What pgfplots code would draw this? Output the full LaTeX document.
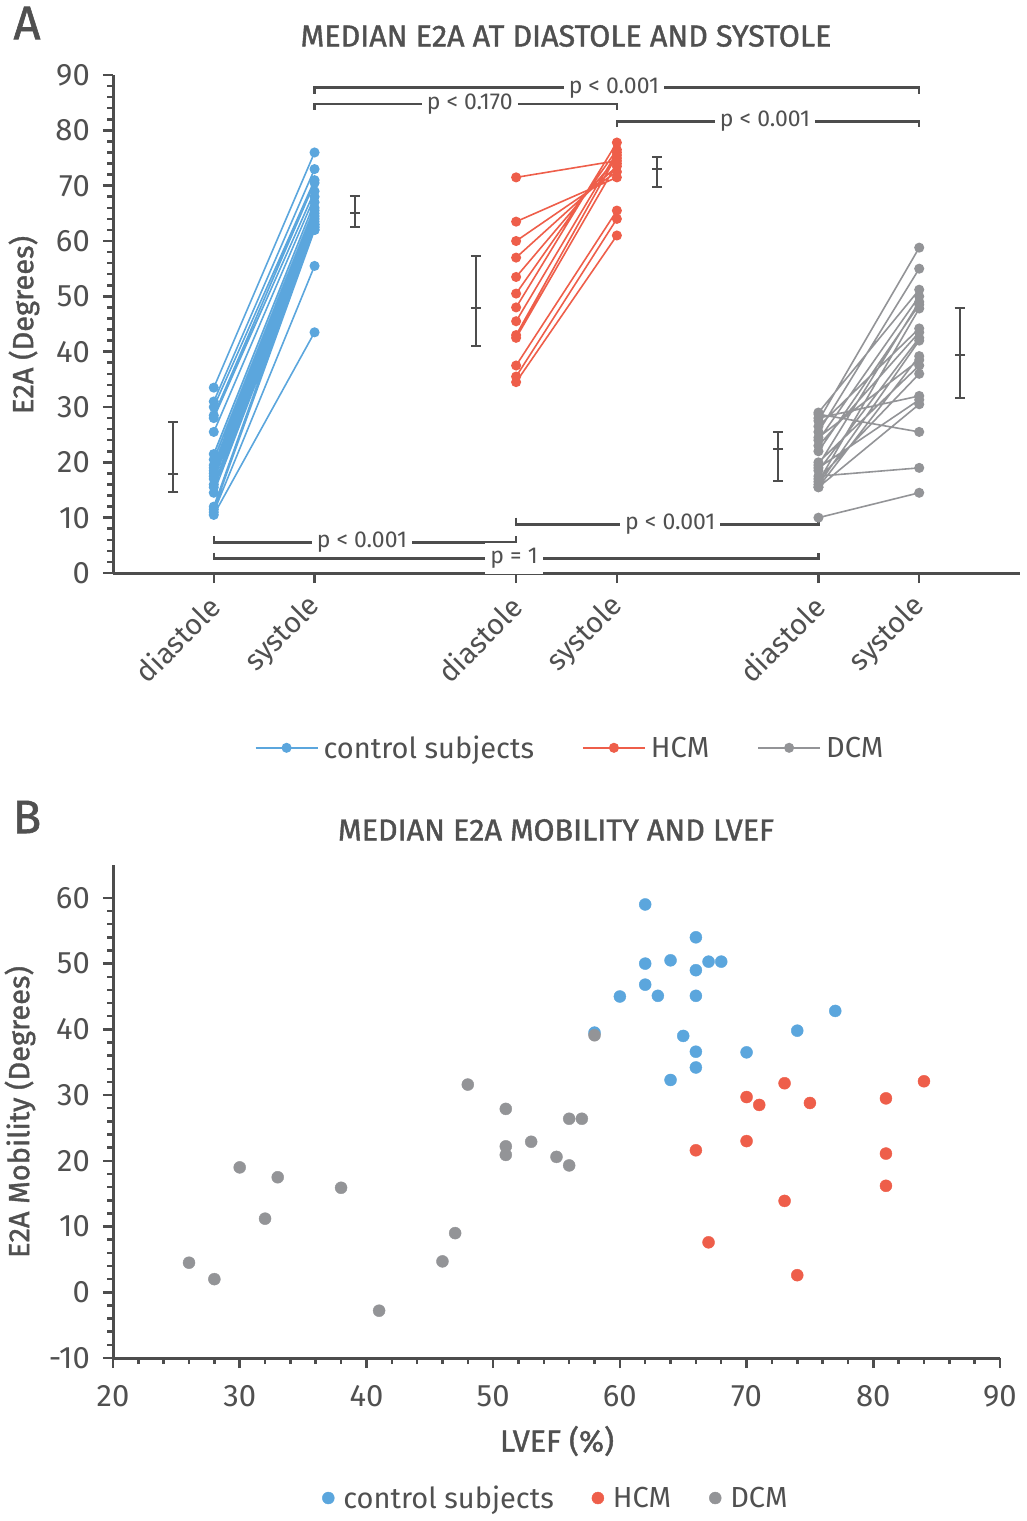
\documentclass[border=0pt]{standalone}
\usepackage{pgfplots}
\pgfplotsset{compat=1.18}
\usepackage{fontspec}
\setmainfont{Fira Sans}
\newfontfamily\medfont[FakeBold=1.3]{Fira Sans}
\definecolor{cblue}{RGB}{91,166,221}
\definecolor{cred}{RGB}{238,94,74}
\definecolor{cgray}{RGB}{147,148,151}
\definecolor{tgray}{RGB}{80,80,80}
\definecolor{agray}{RGB}{77,77,77}
\newcommand\tfont{\fontsize{31}{36}\selectfont}
\newcommand\lfont{\fontsize{29}{34}\selectfont}
\newcommand\hfont{\fontsize{30.5}{36}\selectfont}
\newcommand\pfont{\fontsize{23}{27}\selectfont}
\pgfplotsset{
  common/.style={
    scale only axis,
    axis x line*=bottom, axis y line*=left,
    axis line style={-, line width=3pt, agray},
    tick style={line width=2.5pt, agray},
    major tick length=10pt, minor tick length=6pt,
    tick align=outside,
    tick label style={font=\tfont, text=tgray},
    yticklabel style={inner sep=2pt, xshift=-11pt},
    /pgf/number format/assume math mode=true,
    clip=false,
  },
}
\tikzset{
  br/.style={line width=2.5pt, agray},
  pl/.style={fill=white, inner sep=5pt, font=\pfont, text=tgray},
}
\begin{document}
\begin{tikzpicture}[x=1pt,y=1pt]
\useasboundingbox (0,0) rectangle (1026,-1521);
% ---------------- Panel A ----------------
\node[font=\fontsize{47}{52}\selectfont\medfont, text=tgray] at (27,-23) {A};
\node[font=\hfont\medfont, text=tgray] at (566,-36) {MEDIAN E2A AT DIASTOLE AND SYSTOLE};
\node[font=\lfont\medfont, text=tgray, rotate=90] at (24,-325) {E2A (Degrees)};
\begin{axis}[common,
  at={(113pt,-573pt)}, anchor=south west, width=907pt, height=498pt,
  xmin=0, xmax=9, ymin=0, ymax=90,
  xtick={1,2,4,5,7,8},
  xticklabels={diastole,systole,diastole,systole,diastole,systole},
  xticklabel style={rotate=45, anchor=east, font=\lfont, yshift=-14pt, xshift=-9pt},
  ytick={0,10,...,90}, minor y tick num=4,
  unbounded coords=jump,
  legend style={at={(0.504,-0.351)}, anchor=center, draw=none, fill=none,
    legend columns=3, font=\lfont, text=tgray,
    /tikz/every even column/.append style={column sep=46pt}},
  legend image code/.code={\path[draw=none,fill=none] (0pt,0pt) (66pt,0pt); \draw[mark repeat=2, mark phase=2, #1] plot coordinates {(0pt,0pt) (31pt,0pt) (62pt,0pt)};},
]
\addplot[cblue, line width=1.6pt, mark=*, mark size=4.2pt, mark options={draw=none, fill=cblue}] coordinates {
(1,33.5)(2,76) (nan,nan)
(1,31)(2,73) (nan,nan)
(1,30)(2,71) (nan,nan)
(1,28.5)(2,70.5) (nan,nan)
(1,28)(2,69) (nan,nan)
(1,25.5)(2,68) (nan,nan)
(1,21.5)(2,67) (nan,nan)
(1,20.5)(2,66) (nan,nan)
(1,19.5)(2,65.5) (nan,nan)
(1,19)(2,65) (nan,nan)
(1,18.5)(2,64.5) (nan,nan)
(1,18)(2,64) (nan,nan)
(1,17.5)(2,63.5) (nan,nan)
(1,17)(2,63) (nan,nan)
(1,16)(2,62.5) (nan,nan)
(1,15.5)(2,62.5) (nan,nan)
(1,14.5)(2,62) (nan,nan)
(1,12)(2,63) (nan,nan)
(1,11)(2,55.5) (nan,nan)
(1,10.5)(2,43.5) (nan,nan)
(1,11.5)(2,62)
};
\addlegendentry{control subjects}
\addplot[cred, line width=1.6pt, mark=*, mark size=4.2pt, mark options={draw=none, fill=cred}] coordinates {
(4,71.5)(5,74.5) (nan,nan)
(4,63.5)(5,71.5) (nan,nan)
(4,60)(5,72.5) (nan,nan)
(4,57)(5,73.5) (nan,nan)
(4,53.5)(5,75) (nan,nan)
(4,50.5)(5,76.5) (nan,nan)
(4,48)(5,77.8) (nan,nan)
(4,45.5)(5,76) (nan,nan)
(4,43)(5,75.5) (nan,nan)
(4,42.5)(5,74) (nan,nan)
(4,37.5)(5,65.5) (nan,nan)
(4,35.5)(5,64) (nan,nan)
(4,34.5)(5,61)
};
\addlegendentry{HCM}
\addplot[cgray, line width=1.6pt, mark=*, mark size=4.2pt, mark options={draw=none, fill=cgray}] coordinates {
(7,28.7)(8,25.5) (nan,nan)
(7,17.5)(8,19) (nan,nan)
(7,10)(8,14.5) (nan,nan)
(7,27.5)(8,58.8) (nan,nan)
(7,25.5)(8,55) (nan,nan)
(7,29)(8,51.2) (nan,nan)
(7,24)(8,50) (nan,nan)
(7,19.5)(8,49) (nan,nan)
(7,22)(8,48.5) (nan,nan)
(7,16.5)(8,47.8) (nan,nan)
(7,26.5)(8,44.2) (nan,nan)
(7,23)(8,43.5) (nan,nan)
(7,18.5)(8,42.5) (nan,nan)
(7,16)(8,42) (nan,nan)
(7,15.5)(8,39.2) (nan,nan)
(7,24.5)(8,38.5) (nan,nan)
(7,20)(8,37.5) (nan,nan)
(7,17)(8,36) (nan,nan)
(7,28)(8,32) (nan,nan)
(7,19)(8,31.3) (nan,nan)
(7,15.5)(8,30.5)
};
\addlegendentry{DCM}
% medians with ranges
\addplot[forget plot, draw=none, mark=-, mark size=5pt, mark options={line width=2pt, draw=agray},
  error bars/.cd, y dir=both, y explicit,
  error bar style={line width=2pt, agray},
  error mark options={line width=2pt, draw=agray, mark size=5pt, rotate=90}]
coordinates {
(0.6,17.9) += (0,9.4) -= (0,3.3)
(2.4,65.1) += (0,3.0) -= (0,2.6)
(3.6,47.9) += (0,9.4) -= (0,6.9)
(5.4,73.0) += (0,2.2) -= (0,3.2)
(6.6,22.4) += (0,3.1) -= (0,5.8)
(8.4,39.4) += (0,8.5) -= (0,7.8)
};
% significance brackets
\draw[br] (axis cs:2,86.6) -- (axis cs:2,87.7) -- (axis cs:8,87.7) -- (axis cs:8,86.6);
\node[pl] at (axis cs:4.97,87.7) {p < 0.001};
\draw[br] (axis cs:2,83.7) -- (axis cs:2,84.8) -- (axis cs:5,84.8) -- (axis cs:5,83.7);
\node[pl] at (axis cs:3.54,84.8) {p < 0.170};
\draw[br] (axis cs:5,80.6) -- (axis cs:5,81.6) -- (axis cs:8,81.6) -- (axis cs:8,80.6);
\node[pl] at (axis cs:6.47,81.6) {p < 0.001};
\draw[br] (axis cs:4,10.0) -- (axis cs:4,8.8) -- (axis cs:7,8.8) -- (axis cs:7,10.0);
\node[pl] at (axis cs:5.53,8.8) {p < 0.001};
\draw[br] (axis cs:1,6.7) -- (axis cs:1,5.5) -- (axis cs:4,5.5) -- (axis cs:4,6.7);
\node[pl] at (axis cs:2.47,5.5) {p < 0.001};
\draw[br] (axis cs:1,3.7) -- (axis cs:1,2.6) -- (axis cs:7,2.6) -- (axis cs:7,3.7);
\node[pl] at (axis cs:3.98,2.6) {p = 1};
\end{axis}
% ---------------- Panel B ----------------
\node[font=\fontsize{47}{52}\selectfont\medfont, text=tgray] at (27,-817) {B};
\node[font=\hfont\medfont, text=tgray] at (556,-830) {MEDIAN E2A MOBILITY AND LVEF};
\node[font=\lfont\medfont, text=tgray, rotate=90] at (20,-1112) {E2A Mobility (Degrees)};
\node[font=\hfont\medfont, text=tgray] at (557,-1441) {LVEF (\%)};
\begin{axis}[common,
  at={(113pt,-1358pt)}, anchor=south west, width=887pt, height=493pt,
  xmin=20, xmax=90, ymin=-10, ymax=65,
  xtick={20,30,...,90}, ytick={-10,0,...,60},
  xticklabel style={yshift=-14pt},
  minor x tick num=4, minor y tick num=4,
  legend style={at={(0.4994,-0.284)}, anchor=center, draw=none, fill=none,
    legend columns=3, font=\lfont, text=tgray,
    /tikz/every even column/.append style={column sep=36pt}},
  legend image code/.code={\draw[#1] plot coordinates {(0pt,0pt)}; \path[draw=none,fill=none] (-6pt,-6pt) (13pt,6pt);},
]
\addplot[only marks, color=cblue, mark=*, mark size=6pt, mark options={draw=none, fill=cblue}] coordinates {
(62,59)(66,54)(62,50)(64,50.5)(66,49)(67,50.3)(68,50.3)(62,46.8)(60,45)(63,45.1)
(66,45.1)(77,42.8)(74,39.8)(58,39.5)(65,39)(70,36.5)(66,36.6)(66,34.2)(64,32.3)
};
\addlegendentry{control subjects}
\addplot[only marks, color=cred, mark=*, mark size=6pt, mark options={draw=none, fill=cred}] coordinates {
(73,31.8)(84,32.1)(70,29.7)(71,28.5)(75,28.8)(81,29.5)(70,23)(66,21.6)(81,21.1)
(81,16.2)(73,13.9)(67,7.6)(74,2.6)
};
\addlegendentry{HCM}
\addplot[only marks, color=cgray, mark=*, mark size=6pt, mark options={draw=none, fill=cgray}] coordinates {
(48,31.6)(51,27.9)(53,22.9)(51,22.2)(51,20.9)(30,19)(33,17.5)(38,15.9)(32,11.2)
(47,9)(26,4.5)(46,4.7)(28,2)(41,-2.8)(58,39.1)(56,26.4)(57,26.4)(55,20.6)(56,19.3)
};
\addlegendentry{DCM}
\end{axis}
\end{tikzpicture}
\end{document}
